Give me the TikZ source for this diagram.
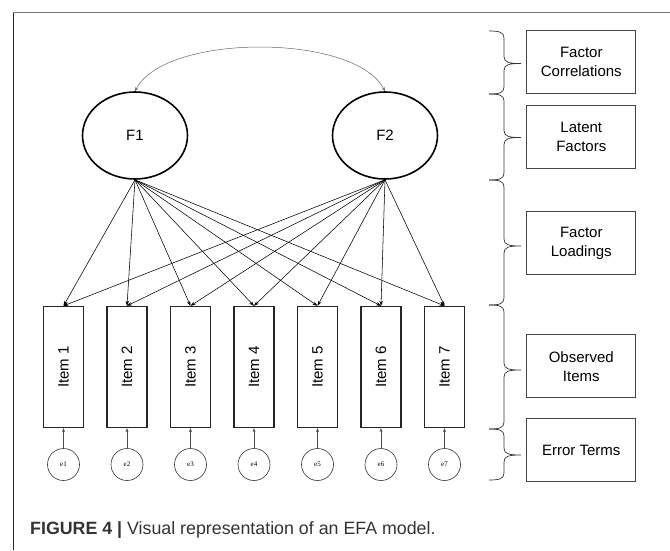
\documentclass[tikz,border=0pt]{standalone}
\usepackage{fontspec}
\setmainfont{Liberation Sans}
\newfontfamily\serifsmall{Liberation Serif}
\usetikzlibrary{shapes.geometric,arrows.meta}
\definecolor{framegray}{HTML}{777777}
\definecolor{boxgray}{HTML}{444444}
\definecolor{capgray}{HTML}{333333}
\tikzset{
  factor/.style={ellipse,draw=black,line width=1.6pt,minimum width=105pt,minimum height=87pt,inner sep=0pt,font=\fontsize{15}{18}\selectfont},
  itembox/.style={rectangle,draw=black!85,line width=1.3pt,minimum width=40pt,minimum height=121pt,inner sep=0pt,font=\fontsize{15}{18}\selectfont},
  errnode/.style={circle,draw=black!80,line width=0.6pt,minimum size=32pt,inner sep=0pt,font=\serifsmall\fontsize{7}{8}\selectfont},
  legendbox/.style={rectangle,draw=boxgray,line width=0.8pt,minimum width=109pt,minimum height=63pt,inner sep=0pt,align=center,font=\fontsize{15}{19}\selectfont},
  loadarrow/.style={-{Stealth[length=5pt,width=3.5pt]},line width=0.55pt},
  errarrow/.style={-{Stealth[length=4pt,width=3pt]},line width=0.5pt,black!70},
  corrarrow/.style={{Stealth[length=4pt,width=3pt]}-{Stealth[length=4pt,width=3pt]},line width=0.5pt,black!60},
  bracepath/.style={line width=0.7pt,black!80}
}
% brace: top y, tip y, bottom y
\newcommand{\efabrace}[3]{%
  \draw[bracepath] (489,#1) .. controls (499,#1) and (504,#1+1) .. (504,#1+7)
    -- (504,#2-7) .. controls (504,#2-1) and (509,#2) .. (521,#2)
    .. controls (509,#2) and (504,#2+1) .. (504,#2+7)
    -- (504,#3-7) .. controls (504,#3-1) and (499,#3) .. (489,#3);}
\begin{document}
\begin{tikzpicture}[x=1pt,y=-1pt]
\useasboundingbox (0,0) rectangle (670,550);
% frame
\draw[framegray,line width=1.3pt] (12.5,12.7) -- (670,12.7);
\draw[black!85,line width=1pt] (13,12.7) -- (13,550);
% factors
\node[factor] (F1) at (135,135.5) {F1};
\node[factor] (F2) at (385,135.5) {F2};
% correlation
\draw[corrarrow] (F1.north) .. controls (165,33) and (355,33) .. (F2.north);
% items
\foreach \i in {1,...,7}{
  \pgfmathsetmacro{\xc}{63.5+63.5*(\i-1)}
  \node[itembox] (I\i) at (\xc,367) {\rotatebox{90}{Item \i}};
  \node[errnode] (e\i) at (\xc,464.5) {e\i};
  \draw[errarrow] (e\i.north) -- (I\i.south);
}
% loadings
\foreach \i in {1,...,7}{
  \draw[loadarrow] (F1.south) -- (I\i.north);
  \draw[loadarrow] (F2.south) -- (I\i.north);
}
% braces
\efabrace{31}{63.5}{94}
\efabrace{94}{137.5}{180}
\efabrace{180}{246}{305}
\efabrace{305}{370}{429}
\efabrace{429}{455}{480}
% legend boxes
\node[legendbox] (L1) at (581.3,62.3) {Factor\\Correlations};
\node[legendbox] (L2) at (581.3,136.8) {Latent\\Factors};
\node[legendbox] (L3) at (581.3,243.3) {Factor\\Loadings};
\node[legendbox] (L4) at (581.3,366.3) {Observed\\Items};
\node[legendbox] (L5) at (581.3,450) {Error Terms};
% caption
\node[anchor=base west,inner sep=0pt,text=capgray,font=\fontsize{17.8}{20}\selectfont] (cap) at (30,534.3) {\textbf{FIGURE 4 |} Visual representation of an EFA model.};
\end{tikzpicture}
\end{document}
